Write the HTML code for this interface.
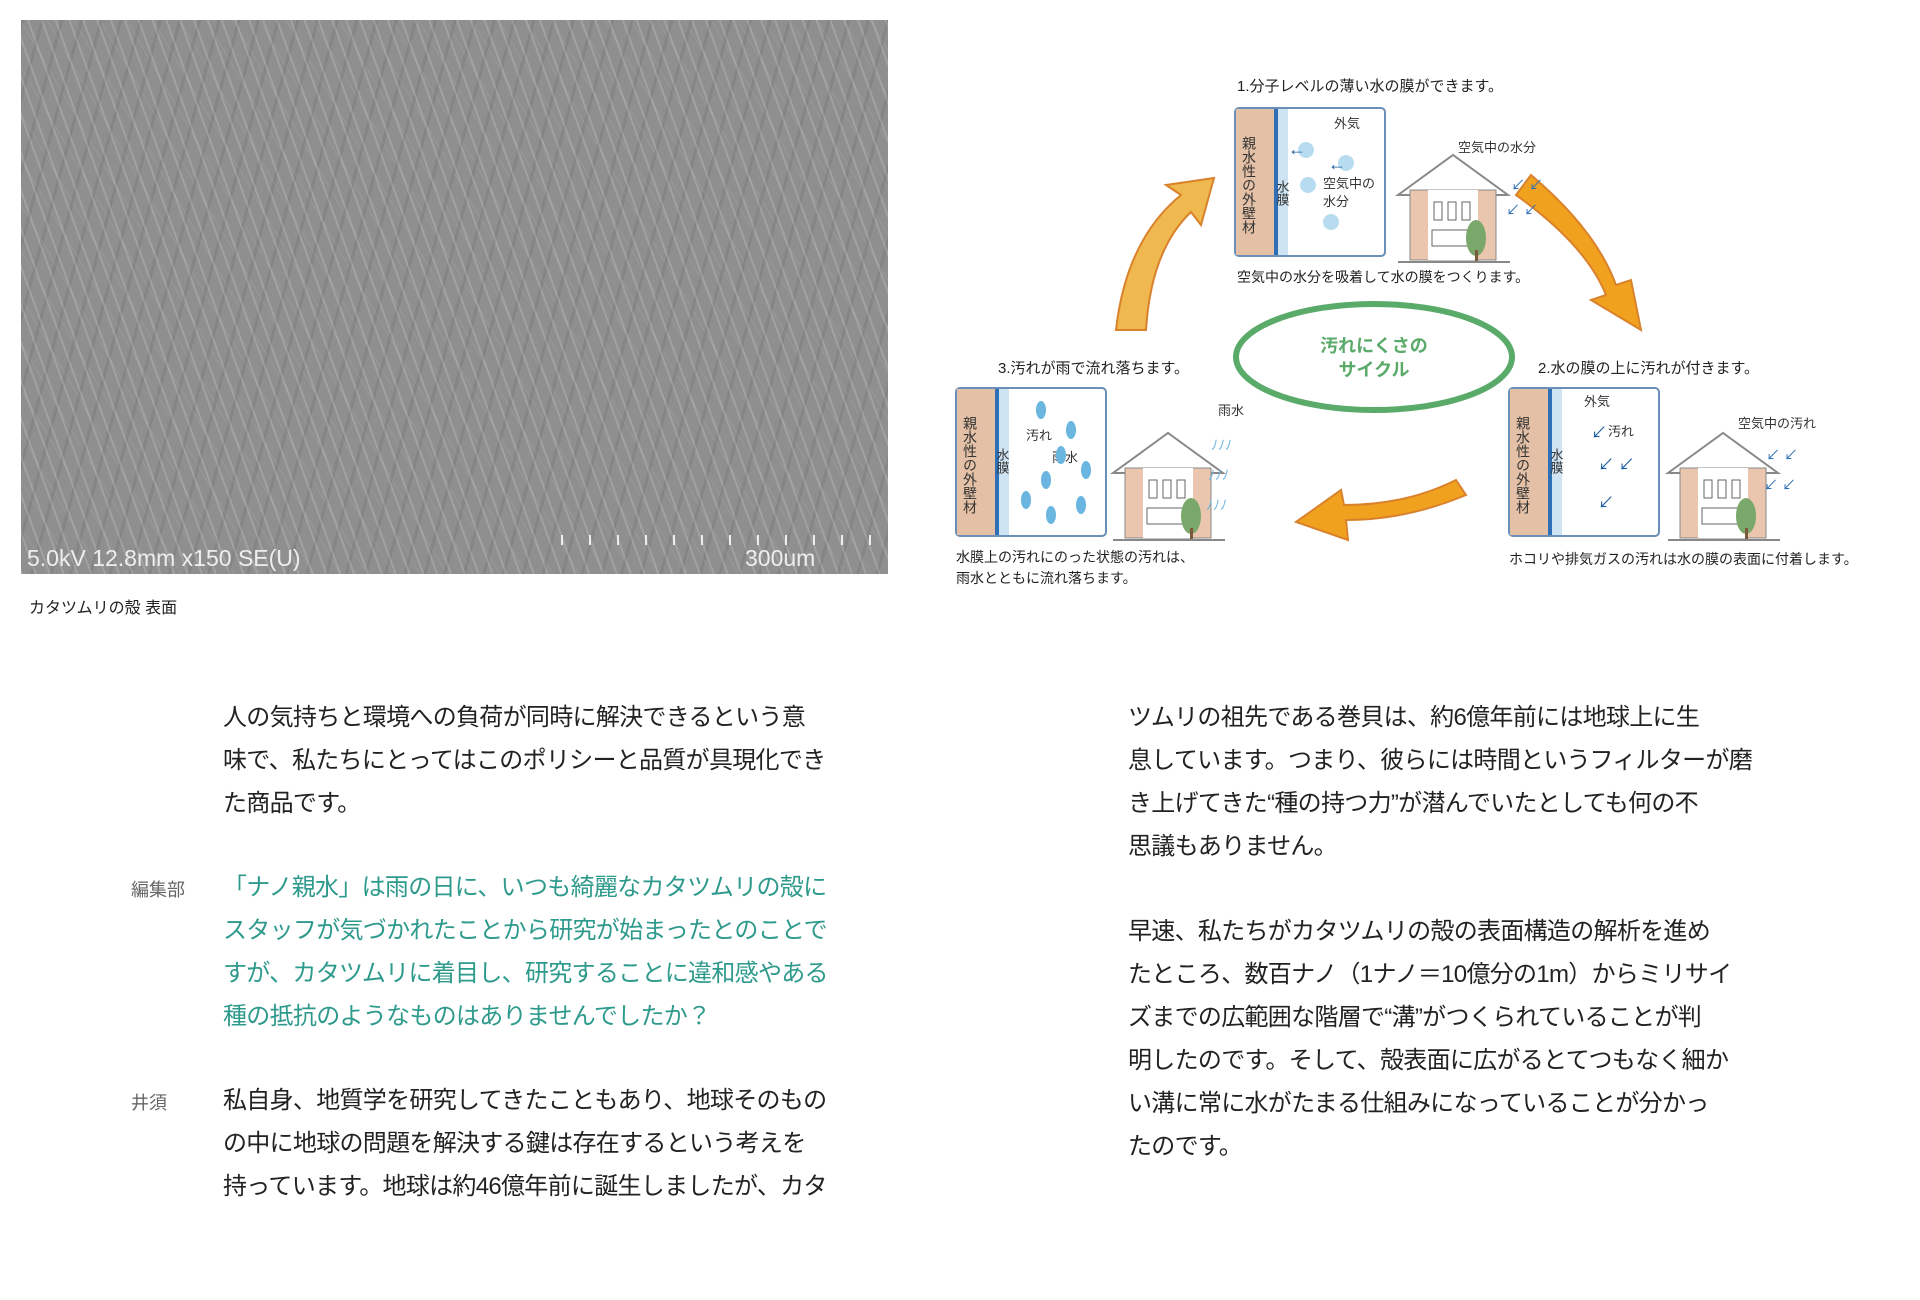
<!DOCTYPE html>
<html><head><meta charset="utf-8"><style>
body{margin:0;width:1920px;height:1300px;background:#fff;position:relative;overflow:hidden;font-family:"Liberation Sans","Noto Sans CJK JP",sans-serif;}
.p{position:absolute;font-size:24px;letter-spacing:-0.7px;line-height:43px;white-space:nowrap;color:#222;}
.t{color:#2e9a8c}
.lab{position:absolute;font-size:18px;color:#666;}
#photo{position:absolute;left:21px;top:20px;width:867px;height:554px;background:#8f8f8f;
background-image:repeating-linear-gradient(70deg,rgba(255,255,255,.16) 0 2px,transparent 2px 13px),repeating-linear-gradient(105deg,rgba(0,0,0,.07) 0 3px,transparent 3px 19px),repeating-linear-gradient(60deg,rgba(255,255,255,.08) 0 1px,transparent 1px 23px);}
</style></head><body>
<div id="photo">
<div style="position:absolute;left:6px;bottom:2px;color:#eee;font-size:23px;">5.0kV 12.8mm x150 SE(U)</div>
<div style="position:absolute;left:724px;bottom:2px;color:#eee;font-size:23px;">300um</div>
<div style="position:absolute;left:540px;top:515px;width:320px;height:10px;background:repeating-linear-gradient(90deg,#eee 0 2px,transparent 2px 28px)"></div>
</div>
<div style="position:absolute;left:29px;top:594px;font-size:16px;color:#222">カタツムリの殻 表面</div>

<svg style="position:absolute;left:0;top:0" width="1920" height="620" font-family="Liberation Sans,Noto Sans CJK JP,sans-serif">
<defs><g id="box">
<rect x="0" y="0" width="150" height="148" rx="4" fill="#fff" stroke="#6a8fb8" stroke-width="2"/>
<rect x="1" y="1" width="38" height="146" fill="#e4c1a6"/>
<rect x="39" y="1" width="4" height="146" fill="#2f6fb5"/>
<rect x="43" y="1" width="10" height="146" fill="#cfe4f3"/>
<text x="14" y="28" font-size="14" fill="#333" writing-mode="tb">親水性の外壁材</text>
</g>
<g id="house">
<polygon points="0,45 55,5 110,45" fill="#fff" stroke="#888" stroke-width="2"/>
<rect x="12" y="40" width="86" height="70" fill="#e9c6ad" stroke="#888"/>
<rect x="30" y="40" width="50" height="70" fill="#fff"/>
<rect x="36" y="52" width="8" height="18" fill="#fff" stroke="#666"/><rect x="50" y="52" width="8" height="18" fill="#fff" stroke="#666"/><rect x="64" y="52" width="8" height="18" fill="#fff" stroke="#666"/>
<rect x="34" y="80" width="36" height="16" fill="#fff" stroke="#666"/>
<ellipse cx="78" cy="88" rx="10" ry="18" fill="#7aa86a"/><rect x="77" y="100" width="3" height="12" fill="#7a5a3a"/>
<line x1="0" y1="112" x2="112" y2="112" stroke="#888" stroke-width="2"/>
</g></defs>
<g transform="translate(-14,0)">
<path d="M1130,330 Q1140,240 1195,195 L1180,185 L1228,178 L1215,225 L1205,212 Q1165,250 1160,330 Z" fill="#f0b94f" stroke="#d9822b" stroke-width="2"/>
<path d="M1545,175 Q1610,230 1630,285 L1645,280 L1655,330 L1605,300 L1620,295 Q1600,245 1530,195 Z" fill="#f0a21e" stroke="#d9822b" stroke-width="2"/>
<path d="M1480,495 Q1420,520 1360,520 L1362,540 L1310,522 L1355,490 L1358,505 Q1420,505 1470,480 Z" fill="#f0a21e" stroke="#d9822b" stroke-width="2"/>
<ellipse cx="1388" cy="357" rx="138" ry="53" fill="#fff" stroke="#5aaa6a" stroke-width="6"/>
<text x="1388" y="352" font-size="18" fill="#5aaa6a" text-anchor="middle" font-weight="bold">汚れにくさの</text>
<text x="1388" y="376" font-size="18" fill="#5aaa6a" text-anchor="middle" font-weight="bold">サイクル</text>
<text x="1251" y="91" font-size="15" fill="#222">1.分子レベルの薄い水の膜ができます。</text>
<use href="#box" x="1249" y="108"/>
<text x="1348" y="128" font-size="13" fill="#333">外気</text>
<text x="1296" y="180" font-size="13" fill="#333" writing-mode="tb">水膜</text>
<text x="1337" y="188" font-size="13" fill="#333">空気中の</text><text x="1337" y="206" font-size="13" fill="#333">水分</text>
<circle cx="1320" cy="150" r="8" fill="#b8dcef"/><circle cx="1360" cy="163" r="8" fill="#b8dcef"/><circle cx="1322" cy="185" r="8" fill="#b8dcef"/><circle cx="1345" cy="222" r="8" fill="#b8dcef"/>
<text x="1302" y="155" font-size="18" fill="#1a5aa0" font-weight="bold">←</text><text x="1342" y="170" font-size="18" fill="#1a5aa0" font-weight="bold">←</text>
<use href="#house" x="1412" y="150"/>
<text x="1472" y="152" font-size="13" fill="#333">空気中の水分</text>
<text x="1525" y="190" font-size="14" fill="#2f6fb5">↙ ↙</text><text x="1520" y="215" font-size="14" fill="#2f6fb5">↙ ↙</text>
<text x="1251" y="282" font-size="14" fill="#222">空気中の水分を吸着して水の膜をつくります。</text>
<text x="1012" y="373" font-size="15" fill="#222">3.汚れが雨で流れ落ちます。</text>
<use href="#box" x="970" y="388"/>
<text x="1040" y="440" font-size="13" fill="#333">汚れ</text><text x="1066" y="462" font-size="13" fill="#333">雨水</text>
<text x="1016" y="448" font-size="13" fill="#333" writing-mode="tb">水膜</text>
<g fill="#6bb6e0"><ellipse cx="1055" cy="410" rx="5" ry="9"/><ellipse cx="1085" cy="430" rx="5" ry="9"/><ellipse cx="1100" cy="470" rx="5" ry="9"/><ellipse cx="1060" cy="480" rx="5" ry="9"/><ellipse cx="1095" cy="505" rx="5" ry="9"/><ellipse cx="1065" cy="515" rx="5" ry="9"/><ellipse cx="1040" cy="500" rx="5" ry="9"/><ellipse cx="1075" cy="455" rx="5" ry="9"/></g>
<use href="#house" x="1127" y="428"/>
<text x="1232" y="415" font-size="13" fill="#333">雨水</text>
<text x="1225" y="450" font-size="14" fill="#6bb6e0">ﾉﾉﾉ</text><text x="1222" y="480" font-size="14" fill="#6bb6e0">ﾉﾉﾉ</text><text x="1220" y="510" font-size="14" fill="#6bb6e0">ﾉﾉﾉ</text>
<text x="970" y="562" font-size="14" fill="#222">水膜上の汚れにのった状態の汚れは、</text>
<text x="970" y="583" font-size="14" fill="#222">雨水とともに流れ落ちます。</text>
<text x="1552" y="373" font-size="15" fill="#222">2.水の膜の上に汚れが付きます。</text>
<use href="#box" x="1523" y="388"/>
<text x="1598" y="406" font-size="13" fill="#333">外気</text><text x="1622" y="436" font-size="13" fill="#333">汚れ</text>
<text x="1570" y="448" font-size="13" fill="#333" writing-mode="tb">水膜</text>
<text x="1605" y="438" font-size="16" fill="#1a5aa0">↙</text><text x="1612" y="470" font-size="16" fill="#1a5aa0">↙ ↙</text><text x="1612" y="508" font-size="16" fill="#1a5aa0">↙</text>
<use href="#house" x="1682" y="428"/>
<text x="1752" y="428" font-size="13" fill="#333">空気中の汚れ</text>
<text x="1780" y="460" font-size="14" fill="#2f6fb5">↙ ↙</text><text x="1778" y="490" font-size="14" fill="#2f6fb5">↙ ↙</text>
<text x="1523" y="564" font-size="14" fill="#222">ホコリや排気ガスの汚れは水の膜の表面に付着します。</text>
</g>
</svg>

<div class="p" style="left:223px;top:696px">人の気持ちと環境への負荷が同時に解決できるという意<br>味で、私たちにとってはこのポリシーと品質が具現化でき<br>た商品です。</div>
<div class="lab" style="left:131px;top:876px">編集部</div>
<div class="p t" style="left:223px;top:866px">「ナノ親水」は雨の日に、いつも綺麗なカタツムリの殻に<br>スタッフが気づかれたことから研究が始まったとのことで<br>すが、カタツムリに着目し、研究することに違和感やある<br>種の抵抗のようなものはありませんでしたか？</div>
<div class="lab" style="left:131px;top:1089px">井須</div>
<div class="p" style="left:223px;top:1079px">私自身、地質学を研究してきたこともあり、地球そのもの<br>の中に地球の問題を解決する鍵は存在するという考えを<br>持っています。地球は約46億年前に誕生しましたが、カタ</div>
<div class="p" style="left:1128px;top:696px">ツムリの祖先である巻貝は、約6億年前には地球上に生<br>息しています。つまり、彼らには時間というフィルターが磨<br>き上げてきた“種の持つ力”が潜んでいたとしても何の不<br>思議もありません。</div>
<div class="p" style="left:1128px;top:910px">早速、私たちがカタツムリの殻の表面構造の解析を進め<br>たところ、数百ナノ（1ナノ＝10億分の1m）からミリサイ<br>ズまでの広範囲な階層で“溝”がつくられていることが判<br>明したのです。そして、殻表面に広がるとてつもなく細か<br>い溝に常に水がたまる仕組みになっていることが分かっ<br>たのです。</div>
</body></html>
